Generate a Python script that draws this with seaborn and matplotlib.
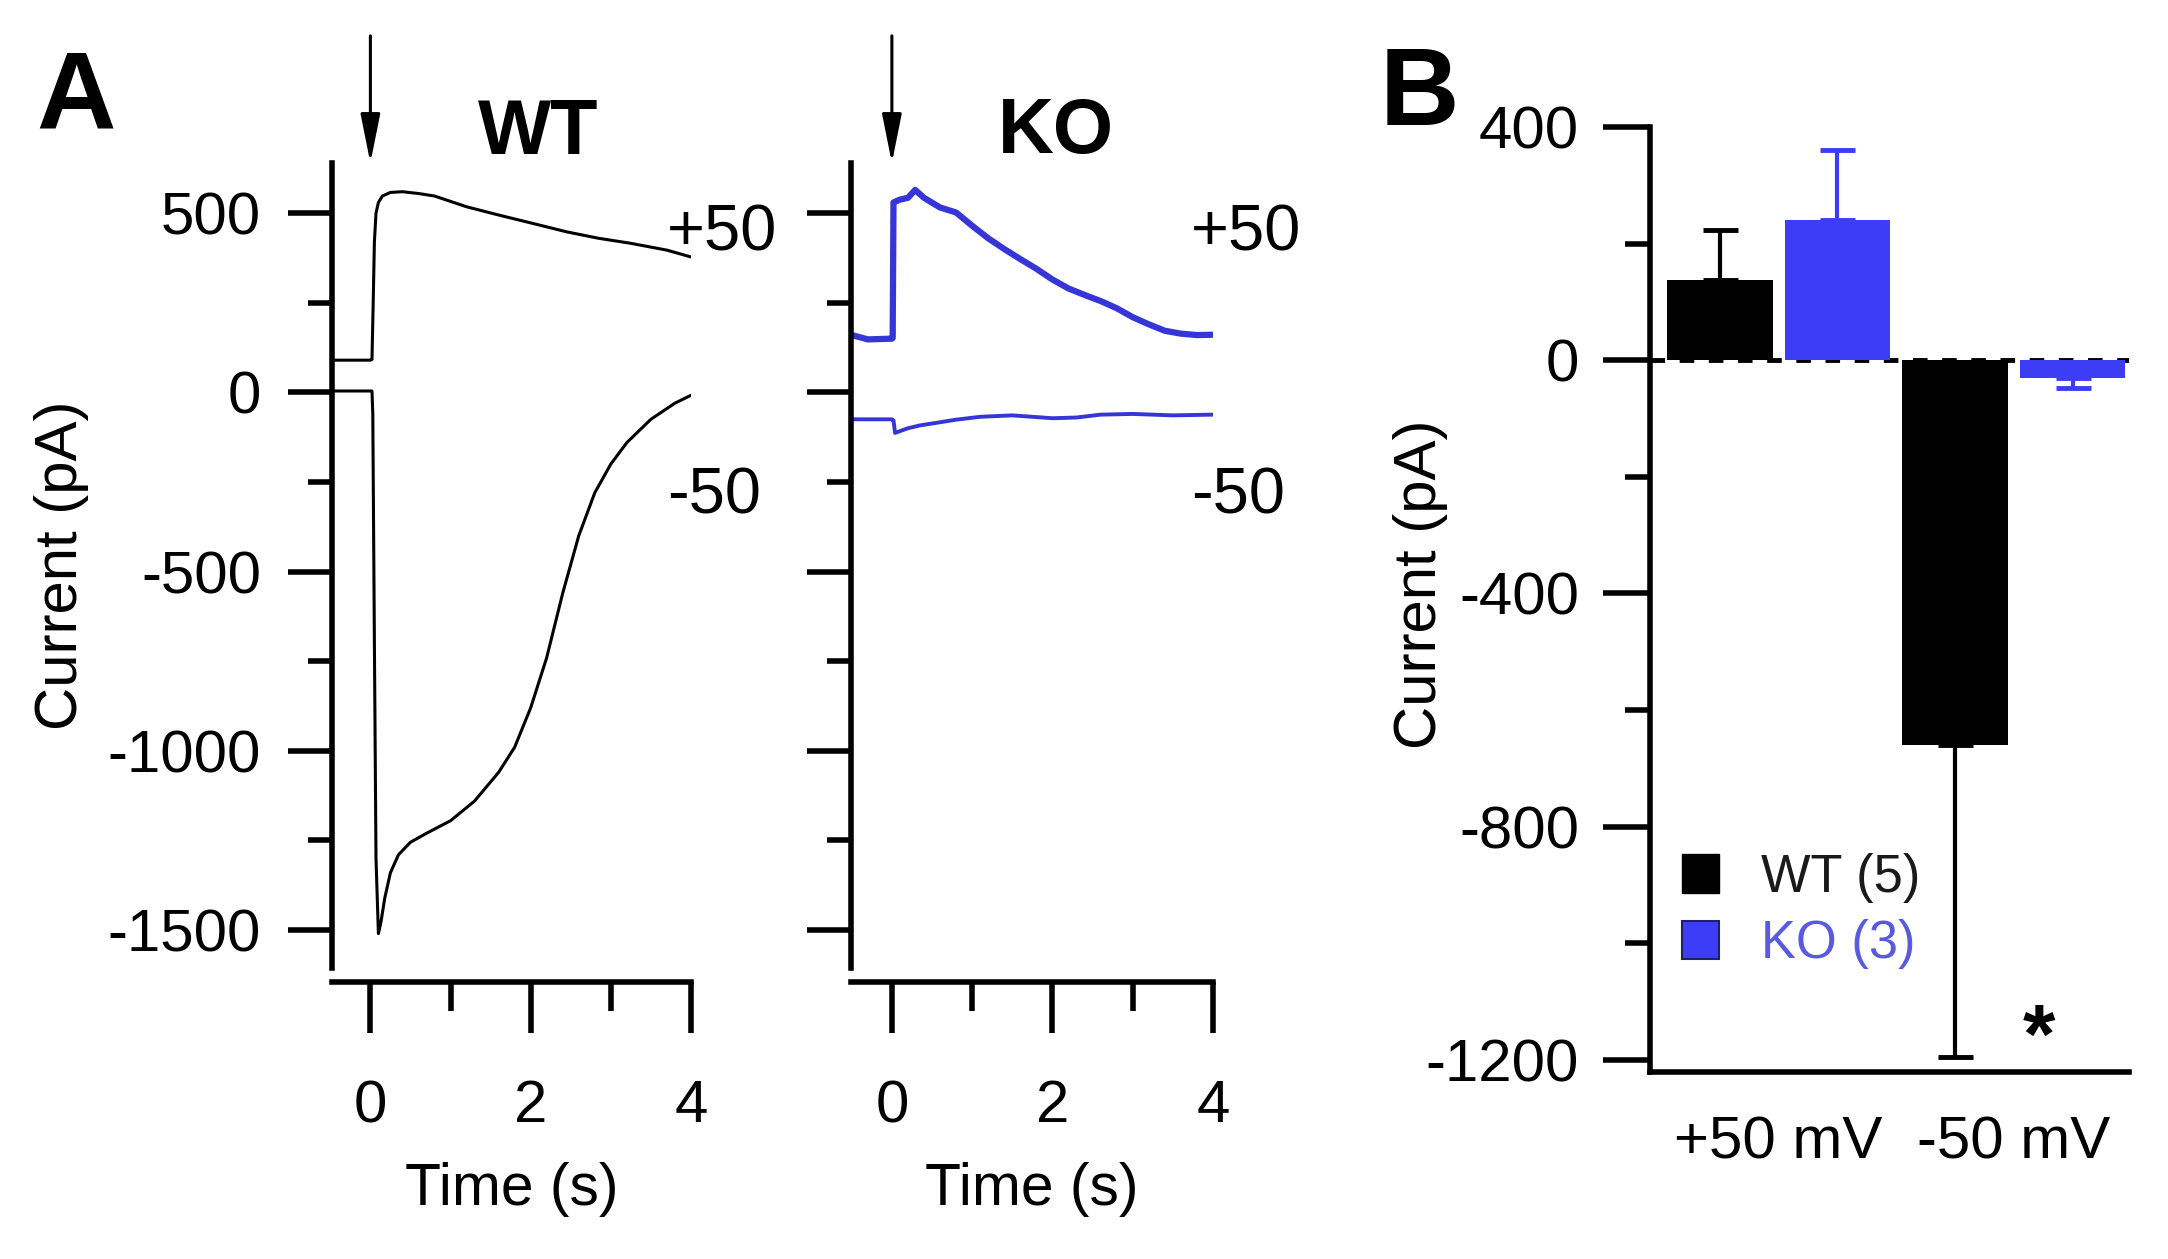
import matplotlib
matplotlib.use('Agg')
import matplotlib.pyplot as plt
import matplotlib.font_manager as fm
from matplotlib.ticker import MultipleLocator
from matplotlib.patches import Patch
import seaborn as sns
import numpy as np
import pandas as pd

# ---- panel A: current traces (time s, current pA) ----
wt_pos_t = [-0.48, 0.0, 0.02, 0.035, 0.05, 0.07, 0.1, 0.15, 0.25, 0.4, 0.6, 0.8,
            1.2, 1.6, 2.0, 2.45, 2.85, 3.25, 3.7, 4.0]
wt_pos_i = [90, 90, 92, 250, 420, 500, 530, 548, 558, 560, 555, 548,
            518, 495, 473, 448, 430, 416, 397, 378]

wt_neg_t = [-0.48, 0.02, 0.03, 0.05, 0.07, 0.1, 0.13, 0.18, 0.25, 0.35, 0.5, 0.7,
            1.0, 1.3, 1.6, 1.8, 2.0, 2.2, 2.4, 2.6, 2.8, 3.0, 3.2, 3.5, 3.8, 4.0]
wt_neg_i = [4, 4, -60, -700, -1300, -1510, -1480, -1410, -1340, -1290, -1255, -1230,
            -1195, -1140, -1060, -990, -880, -740, -560, -400, -280, -200, -140, -75, -30, -8]

ko_pos_t = [-0.5, -0.3, 0.0, 0.01, 0.02, 0.1, 0.2, 0.29, 0.4, 0.6, 0.8, 1.0, 1.2, 1.4,
            1.6, 1.8, 2.0, 2.2, 2.4, 2.6, 2.8, 3.0, 3.2, 3.4, 3.6, 3.8, 4.0]
ko_pos_i = [160, 148, 150, 152, 530, 538, 543, 565, 543, 516, 502, 465, 430, 400,
            372, 345, 315, 290, 272, 255, 235, 210, 190, 172, 164, 160, 161]

ko_neg_t = [-0.5, 0.0, 0.02, 0.04, 0.1, 0.2, 0.35, 0.55, 0.8, 1.1, 1.5, 2.0, 2.3, 2.6,
            3.0, 3.5, 4.0]
ko_neg_i = [-75, -75, -78, -113, -108, -100, -92, -85, -76, -68, -64, -72, -70, -62,
            -60, -64, -62]

# ---- panel B: mean current +/- SEM ----
conditions = ['+50 mV', '-50 mV']
genotypes = ['WT', 'KO']
wt_mean = [137, -660]
ko_mean = [240, -30]
wt_sem = [86, 535]
ko_sem = [120, 18]
legend_labels = ['WT (5)', 'KO (3)']

black = '#000000'
blue_bar = '#3d3df5'
blue_trace = '#3535d8'

# the original lettering is a narrow Helvetica; use the narrow Liberation face if present
installed = {f.name for f in fm.fontManager.ttflist}
narrow = 'Liberation Sans Narrow' in installed
main_font = 'Liberation Sans Narrow' if narrow else 'Liberation Sans'
k = 1.0 if narrow else 0.9  # shrink sizes a bit when only the wide face exists

sns.set_style('ticks')
plt.rcParams['font.family'] = [main_font, 'DejaVu Sans']
plt.rcParams['axes.unicode_minus'] = False
plt.rcParams['axes.linewidth'] = 4
plt.rcParams['axes.edgecolor'] = 'black'
plt.rcParams['text.color'] = 'black'
plt.rcParams['axes.labelcolor'] = 'black'
plt.rcParams['xtick.color'] = 'black'
plt.rcParams['ytick.color'] = 'black'

fig = plt.figure(figsize=(21.68, 12.59), dpi=100)
ax_wt = fig.add_axes([0.1531, 0.2311, 0.1656, 0.6394])
ax_ko = fig.add_axes([0.3925, 0.2311, 0.1670, 0.6394])
ax_b = fig.add_axes([0.7611, 0.1485, 0.2209, 0.7506])

sns.lineplot(x=wt_pos_t, y=wt_pos_i, ax=ax_wt, color=black, lw=2.2, sort=False, estimator=None)
sns.lineplot(x=wt_neg_t, y=wt_neg_i, ax=ax_wt, color=black, lw=2.2, sort=False, estimator=None)
sns.lineplot(x=ko_pos_t, y=ko_pos_i, ax=ax_ko, color=blue_trace, lw=4.5, sort=False, estimator=None)
sns.lineplot(x=ko_neg_t, y=ko_neg_i, ax=ax_ko, color=blue_trace, lw=2.8, sort=False, estimator=None)


def style_trace_ax(ax, left):
    ax.set_xlim(left, 4.0)
    ax.set_ylim(-1606, 640)
    ax.spines['top'].set_visible(False)
    ax.spines['right'].set_visible(False)
    ax.spines['bottom'].set_position(('outward', 10))
    ax.xaxis.set_major_locator(MultipleLocator(2))
    ax.xaxis.set_minor_locator(MultipleLocator(1))
    ax.yaxis.set_major_locator(MultipleLocator(500))
    ax.yaxis.set_minor_locator(MultipleLocator(250))
    ax.tick_params(axis='x', which='major', length=37, width=4, pad=33, labelsize=48 * k)
    ax.tick_params(axis='x', which='minor', length=21, width=4)
    ax.tick_params(axis='y', which='major', length=32, width=4, pad=19, labelsize=48 * k)
    ax.tick_params(axis='y', which='minor', length=17, width=4)
    ax.set_xlabel('Time (s)', fontsize=47 * k)
    ax.xaxis.set_label_coords(0.5, -0.241)
    ax.xaxis.label.set_va('top')
    # stimulus arrow at t = 0
    tr = ax.get_xaxis_transform()
    ax.annotate('', xy=(0, 1.0), xycoords=tr, xytext=(0, 1.158), textcoords=tr,
                arrowprops=dict(arrowstyle='-|>,head_length=0.6,head_width=0.12',
                                color='black', lw=2.2, shrinkA=0, shrinkB=0,
                                mutation_scale=50),
                annotation_clip=False)


style_trace_ax(ax_wt, -0.48)
style_trace_ax(ax_ko, -0.51)
ax_ko.tick_params(axis='y', labelleft=False)

ax_wt.set_ylabel('Current (pA)', fontsize=48 * k)
ax_wt.yaxis.set_label_coords(-0.752, 0.5)
ax_wt.yaxis.label.set_va('center')

ax_wt.text(0.574, 1.011, 'WT', transform=ax_wt.transAxes, ha='center', va='baseline',
           fontsize=62 * k, fontweight='bold')
ax_ko.text(0.566, 1.012, 'KO', transform=ax_ko.transAxes, ha='center', va='baseline',
           fontsize=62 * k, fontweight='bold')

for ax, tx in [(ax_wt, 3.70), (ax_ko, 3.73)]:
    ax.text(tx, 397, '+50', fontsize=52 * k, ha='left', va='baseline', clip_on=False)
    ax.text(tx, -337, '-50', fontsize=52 * k, ha='left', va='baseline', clip_on=False)

# ---- panel B ----
df_b = pd.DataFrame({
    'condition': conditions * 2,
    'genotype': [genotypes[0]] * 2 + [genotypes[1]] * 2,
    'current': wt_mean + ko_mean,
})
sns.barplot(data=df_b, x='condition', y='current', hue='genotype', order=conditions,
            hue_order=genotypes, palette=[black, blue_bar], width=1.0, gap=0.1,
            saturation=1, errorbar=None, legend=False, linewidth=0, ax=ax_b)

means = {'WT': wt_mean, 'KO': ko_mean}
sems = {'WT': wt_sem, 'KO': ko_sem}
colors = {'WT': black, 'KO': blue_bar}
for j, g in enumerate(genotypes):
    for bar, m, e in zip(ax_b.containers[j], means[g], sems[g]):
        xc = bar.get_x() + bar.get_width() / 2
        yerr = [[0], [e]] if m > 0 else [[e], [0]]
        ax_b.errorbar(xc, m, yerr=yerr, fmt='none', ecolor=colors[g], elinewidth=3,
                      capsize=12.6, capthick=3.5, zorder=1)

ax_b.axhline(0, color='black', lw=3.5, ls=(0, (3, 3)), zorder=0.8)

ax_b.set_xlim(-0.547, 1.49)
ax_b.set_ylim(-1221, 400)
ax_b.spines['top'].set_visible(False)
ax_b.spines['right'].set_visible(False)
ax_b.yaxis.set_major_locator(MultipleLocator(400))
ax_b.yaxis.set_minor_locator(MultipleLocator(200))
ax_b.tick_params(axis='y', which='major', length=34, width=4, pad=17, labelsize=48 * k)
ax_b.tick_params(axis='y', which='minor', length=18, width=4)
ax_b.tick_params(axis='x', length=0, pad=31, labelsize=48 * k)
ax_b.set_xlabel('')
ax_b.set_ylabel('Current (pA)', fontsize=48 * k)
ax_b.yaxis.set_label_coords(-0.480, 0.516)
ax_b.yaxis.label.set_va('center')

handles = [Patch(facecolor=black, edgecolor=black),
           Patch(facecolor=blue_bar, edgecolor='#20206a', lw=1.5)]
ax_b.legend(handles, legend_labels, loc='upper left', bbox_to_anchor=(0.067, 0.232),
            frameon=False, fontsize=42 * k, handlelength=0.63 / k, handleheight=0.67 / k,
            handletextpad=0.72 / k, labelspacing=0.31, borderpad=0, borderaxespad=0,
            labelcolor=['#1a1a1a', '#5a5ae0'])

ax_b.text(1.108, -1205, '*', ha='center', va='baseline', fontsize=60, fontweight='bold')

fig.text(36 / 2168, 1 - 127 / 1259, 'A', fontsize=88 * k, fontweight='bold', ha='left', va='baseline')
fig.text(1380 / 2168, 1 - 125 / 1259, 'B', fontsize=88 * k, fontweight='bold', ha='left', va='baseline')

fig.savefig('out.png', dpi=100)
